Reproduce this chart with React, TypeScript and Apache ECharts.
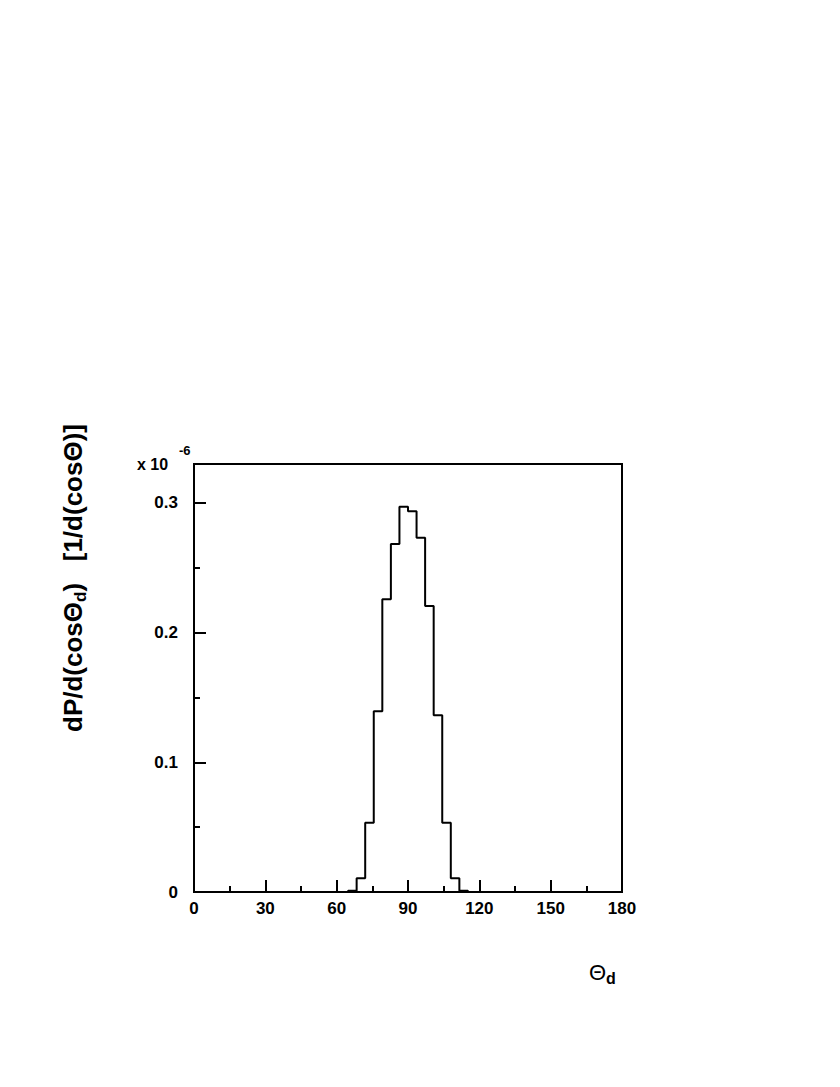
import React, { useEffect, useRef } from "react";
import * as echarts from "echarts";

// Histogram of Theta_d: 50 bins of 3.6 degrees from 0 to 180 (values x 10^-6)
const binWidth = 3.6;
const binValues: number[] = [
  0, 0, 0, 0, 0, 0, 0, 0, 0, 0,
  0, 0, 0, 0, 0, 0, 0, 0, 0.001, 0.0106,
  0.0534, 0.1393, 0.2257, 0.2683, 0.2971, 0.2935, 0.2732, 0.2205, 0.1362, 0.0534,
  0.0106, 0.001, 0, 0, 0, 0, 0, 0, 0, 0,
  0, 0, 0, 0, 0, 0, 0, 0, 0, 0,
];
const xTicks = [0, 30, 60, 90, 120, 150, 180];
const yTicks = [0, 0.1, 0.2, 0.3];

export default function App() {
  const ref = useRef<HTMLDivElement>(null);
  useEffect(() => {
    if (!ref.current) return;
    const chart = echarts.init(ref.current, undefined, { renderer: "svg" });
    const stepData: [number, number][] = binValues.map((v, i) => [i * binWidth, v]);
    stepData.push([binValues.length * binWidth, binValues[binValues.length - 1]]);
    const font = "Liberation Sans, Arial, Helvetica, sans-serif";
    chart.setOption({
      animation: false,
      backgroundColor: "#fff",
      grid: {
        left: 194,
        right: 218,
        top: 464,
        bottom: 195,
        show: true,
        borderColor: "#000",
        borderWidth: 2,
        backgroundColor: "transparent",
      },
      xAxis: {
        type: "value",
        min: xTicks[0],
        max: xTicks[xTicks.length - 1],
        interval: 30,
        axisLine: { show: true, lineStyle: { color: "#000", width: 2 } },
        axisTick: { show: true, inside: true, length: 12, lineStyle: { color: "#000", width: 2 } },
        minorTick: { show: true, splitNumber: 2, length: 6, lineStyle: { color: "#000", width: 2 } },
        splitLine: { show: false },
        axisLabel: {
          color: "#000",
          fontFamily: font,
          fontWeight: "bold",
          fontSize: 17,
          margin: 8,
        },
      },
      yAxis: [
        {
          type: "value",
          min: 0,
          max: 0.33,
          interval: 0.1,
          axisLine: { show: true, lineStyle: { color: "#000", width: 2 } },
          axisTick: { show: true, inside: true, length: 12, lineStyle: { color: "#000", width: 2 } },
          splitLine: { show: false },
          axisLabel: {
            color: "#000",
            fontFamily: font,
            fontWeight: "bold",
            fontSize: 17,
            margin: 16,
            showMaxLabel: false,
            formatter: (v: number) => {
              const t = yTicks.find((y) => Math.abs(y - v) < 1e-9);
              return t === undefined ? "" : t === 0 ? "0" : t.toFixed(1);
            },
          },
        },
        {
          type: "value",
          position: "left",
          min: 0,
          max: 0.33,
          interval: 0.05,
          axisLine: { show: false },
          axisTick: { show: true, inside: true, length: 6, lineStyle: { color: "#000", width: 2 } },
          splitLine: { show: false },
          axisLabel: { show: false },
        },
      ],
      series: [
        {
          type: "line",
          step: "end",
          data: stepData,
          symbol: "none",
          lineStyle: { color: "#000", width: 2 },
          z: 3,
        },
      ],
      graphic: [
        {
          type: "text",
          x: 137,
          y: 464,
          style: {
            text: "x 10",
            fontFamily: font,
            fontWeight: "bold",
            fontSize: 16,
            fill: "#000",
            textAlign: "left",
            textVerticalAlign: "middle",
          },
        },
        {
          type: "text",
          x: 179,
          y: 450,
          style: {
            text: "-6",
            fontFamily: font,
            fontWeight: "bold",
            fontSize: 13,
            fill: "#000",
            textAlign: "left",
            textVerticalAlign: "middle",
          },
        },
        {
          type: "text",
          x: 73,
          y: 578,
          rotation: Math.PI / 2,
          style: {
            text: "{m|dP/d(cosΘ}{s|d}{m|)   [1/d(cosΘ)]}",
            fill: "#000",
            textAlign: "center",
            textVerticalAlign: "middle",
            rich: {
              m: { fontFamily: font, fontWeight: "bold", fontSize: 26, fill: "#000" },
              s: {
                fontFamily: font,
                fontWeight: "bold",
                fontSize: 17,
                fill: "#000",
                padding: [14, 0, 0, 0],
              },
            },
          },
        },
        {
          type: "text",
          x: 589,
          y: 972,
          style: {
            text: "{m|Θ}{s|d}",
            fill: "#000",
            textAlign: "left",
            textVerticalAlign: "middle",
            rich: {
              m: { fontFamily: font, fontSize: 22, fill: "#000" },
              s: {
                fontFamily: font,
                fontWeight: "bold",
                fontSize: 16,
                fill: "#000",
                padding: [12, 0, 0, 0],
              },
            },
          },
        },
      ],
    });
    return () => chart.dispose();
  }, []);
  return (
    <div
      ref={ref}
      style={{ position: "absolute", left: 0, top: 0, width: 840, height: 1087 }}
    />
  );
}
